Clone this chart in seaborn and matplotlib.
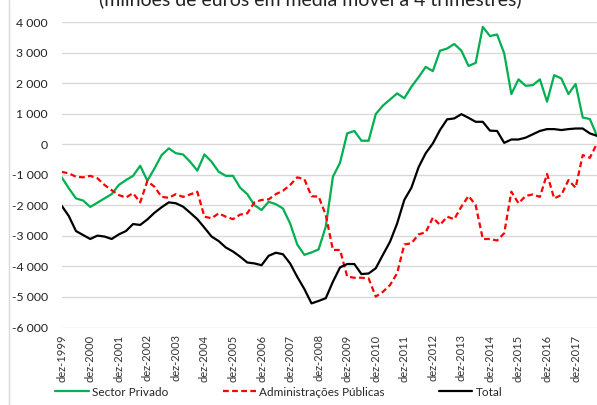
import numpy as np
import pandas as pd
import seaborn as sns
import matplotlib.pyplot as plt
from matplotlib.lines import Line2D
from matplotlib.ticker import FuncFormatter

# quarterly, dez-1999 .. set-2018 (4-quarter moving average, million euros)
quarters = list(range(76))
year_labels = [f"dez-{y}" for y in range(1999, 2018)]

sector_privado = [
    -1080, -1440, -1770, -1840, -2050, -1910, -1770, -1630, -1330, -1170,
    -1030, -700, -1190, -790, -350, -130, -290, -330, -570, -860,
    -330, -570, -900, -1030, -1030, -1420, -1630, -1990, -2150, -1880,
    -1960, -2100, -2590, -3280, -3620, -3540, -3440, -2690, -1060, -600,
    360, 440, 120, 120, 990, 1270, 1470, 1670, 1510, 1890,
    2200, 2540, 2400, 3070, 3140, 3290, 3070, 2570, 2670, 3850,
    3550, 3600, 2980, 1650, 2130, 1920, 1940, 2130, 1400, 2270,
    2160, 1650, 1980, 880, 830, 280,
]
administracoes_publicas = [
    -900, -950, -1060, -1080, -1030, -1110, -1330, -1500, -1660, -1740,
    -1600, -1900, -1200, -1390, -1720, -1750, -1630, -1720, -1640, -1550,
    -2370, -2420, -2260, -2370, -2450, -2300, -2260, -1900, -1820, -1800,
    -1630, -1520, -1330, -1080, -1140, -1700, -1710, -2310, -3460, -3460,
    -4330, -4370, -4370, -4390, -4990, -4830, -4610, -4220, -3280, -3240,
    -2950, -2880, -2400, -2640, -2370, -2450, -2040, -1690, -1990, -3100,
    -3100, -3150, -2910, -1550, -1930, -1690, -1640, -1720, -970, -1770,
    -1660, -1170, -1420, -350, -440, 30,
]
total = [
    -2010, -2350, -2840, -2970, -3100, -2990, -3020, -3100, -2950, -2840,
    -2610, -2640, -2460, -2240, -2060, -1900, -1930, -2040, -2240, -2450,
    -2730, -3020, -3170, -3380, -3510, -3680, -3870, -3900, -3960, -3650,
    -3550, -3600, -3900, -4340, -4740, -5210, -5130, -5040, -4500, -4030,
    -3920, -3920, -4250, -4230, -4060, -3620, -3190, -2590, -1820, -1420,
    -750, -290, 30, 470, 820, 850, 990, 870, 740, 740,
    450, 440, 50, 160, 160, 220, 330, 440, 500, 500,
    470, 500, 520, 520, 360, 280,
]

series = ["Sector Privado", "Administrações Públicas", "Total"]
df = pd.DataFrame({
    "q": quarters * 3,
    "valor": sector_privado + administracoes_publicas + total,
    "serie": np.repeat(series, len(quarters)),
})

sns.set_style("white")
plt.rcParams["font.family"] = ["Lato", "DejaVu Sans"]

fig = plt.figure(figsize=(5.97, 4.05), dpi=100)
ax = fig.add_axes([61.7 / 597, 1 - 327.5 / 405, 1 - 61.7 / 597, (327.5 - 22.3) / 405])

sns.lineplot(
    data=df, x="q", y="valor", hue="serie", style="serie", ax=ax,
    palette={"Sector Privado": "#00B050", "Administrações Públicas": "#FF0000", "Total": "#000000"},
    dashes={"Sector Privado": "", "Administrações Públicas": (2.6, 1.5), "Total": ""},
    linewidth=1.6, legend=True,
)

ax.set_xlim(0, 75)
ax.set_ylim(-6000, 4000)
ax.set_yticks(range(-6000, 4001, 1000))
ax.yaxis.set_major_formatter(FuncFormatter(lambda v, p: f"{int(v):,}".replace(",", " ")))
ax.set_xticks(range(0, 73, 4))
ax.set_xticklabels(year_labels, rotation=90)
ax.tick_params(axis="x", length=0, pad=5, labelsize=8, colors="#333333")
ax.tick_params(axis="y", length=0, pad=10, labelsize=8.8, colors="#222222")
ax.grid(axis="y", color="#D9D9D9", linewidth=1)
ax.set_axisbelow(True)
for s in ax.spines.values():
    s.set_visible(False)
ax.set_xlabel("")
ax.set_ylabel("")

handles, labels = ax.get_legend_handles_labels()
ax.legend(handles, labels, loc="center", bbox_to_anchor=(279 / 597, 1 - 392 / 405),
          bbox_transform=fig.transFigure, ncol=3, frameon=False, fontsize=8.5,
          handlelength=2.8, columnspacing=4.6, handletextpad=0.3,
          borderpad=0.1)

fig.text(310 / 597, 1 - 5 / 405, "(milhões de euros em média móvel a 4 trimestres)",
         ha="center", va="baseline", fontsize=14, color="#222222")
fig.add_artist(Line2D([8.5 / 597, 8.5 / 597], [0, 1], transform=fig.transFigure,
                      color="#D9D9D9", linewidth=1))

fig.savefig("out.png", dpi=100)
